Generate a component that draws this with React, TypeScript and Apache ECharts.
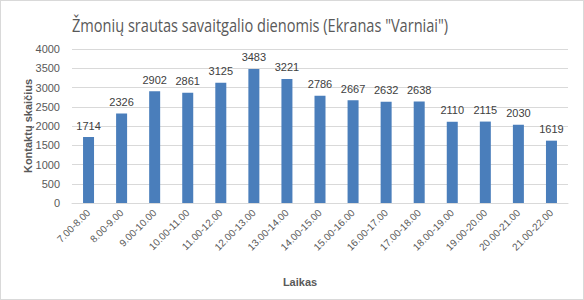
import React, { useEffect, useRef } from "react";
import * as echarts from "echarts";

const categories = ["7.00-8.00", "8.00-9.00", "9.00-10.00", "10.00-11.00", "11.00-12.00", "12.00-13.00", "13.00-14.00", "14.00-15.00", "15.00-16.00", "16.00-17.00", "17.00-18.00", "18.00-19.00", "19.00-20.00", "20.00-21.00", "21.00-22.00"];
const values = [1714, 2326, 2902, 2861, 3125, 3483, 3221, 2786, 2667, 2632, 2638, 2110, 2115, 2030, 1619];
const titleText = 'Žmonių srautas savaitgalio dienomis (Ekranas "Varniai")';
const yTitle = "Kontaktų skaičius";
const xTitle = "Laikas";

export default function App() {
  const ref = useRef<HTMLDivElement>(null);
  useEffect(() => {
    const chart = echarts.init(ref.current!, null, { renderer: "svg" });
    const font = "'Liberation Sans', Arial, sans-serif";
    chart.setOption({
      animation: false,
      backgroundColor: "#ffffff",
      textStyle: { fontFamily: font },
      grid: { left: 71, right: 15, top: 48, bottom: 96, containLabel: false },
      xAxis: {
        type: "category",
        data: categories,
        axisLine: { lineStyle: { color: "#d9d9d9" } },
        axisTick: { show: false },
        axisLabel: { rotate: 45, interval: 0, fontSize: 10, color: "#595959", margin: 8 },
      },
      yAxis: {
        type: "value",
        min: 0,
        max: 4000,
        interval: 500,
        axisLine: { show: false },
        axisTick: { show: false },
        splitLine: { lineStyle: { color: "#d9d9d9" } },
        axisLabel: { fontSize: 11, color: "#595959", margin: 12, formatter: (v: number) => String(v) },
      },
      series: [
        {
          type: "bar",
          data: values,
          barWidth: 11,
          itemStyle: { color: "#4a7ebb" },
          label: { show: true, position: "top", fontSize: 11, color: "#404040", distance: 6 },
        },
      ],
      graphic: [
        {
          type: "text",
          x: 71,
          y: 24,
          scaleX: 0.81,
          style: { text: titleText, font: `18px 'Open Sans', sans-serif`, fill: "#595959", align: "left", verticalAlign: "middle" },
        },
        {
          type: "text",
          x: 27,
          y: 125,
          rotation: Math.PI / 2,
          style: { text: yTitle, font: `bold 11px ${font}`, fill: "#595959", align: "center", verticalAlign: "middle" },
        },
        {
          type: "text",
          x: 299,
          y: 281,
          style: { text: xTitle, font: `bold 11px ${font}`, fill: "#595959", align: "center", verticalAlign: "middle" },
        },
      ],
    });
    return () => chart.dispose();
  }, []);
  return (
    <div style={{ position: "absolute", left: 0, top: 0, width: 584, height: 300, boxSizing: "border-box", border: "1px solid #d9d9d9", background: "#fff" }}>
      <div ref={ref} style={{ width: 582, height: 298 }} />
    </div>
  );
}
